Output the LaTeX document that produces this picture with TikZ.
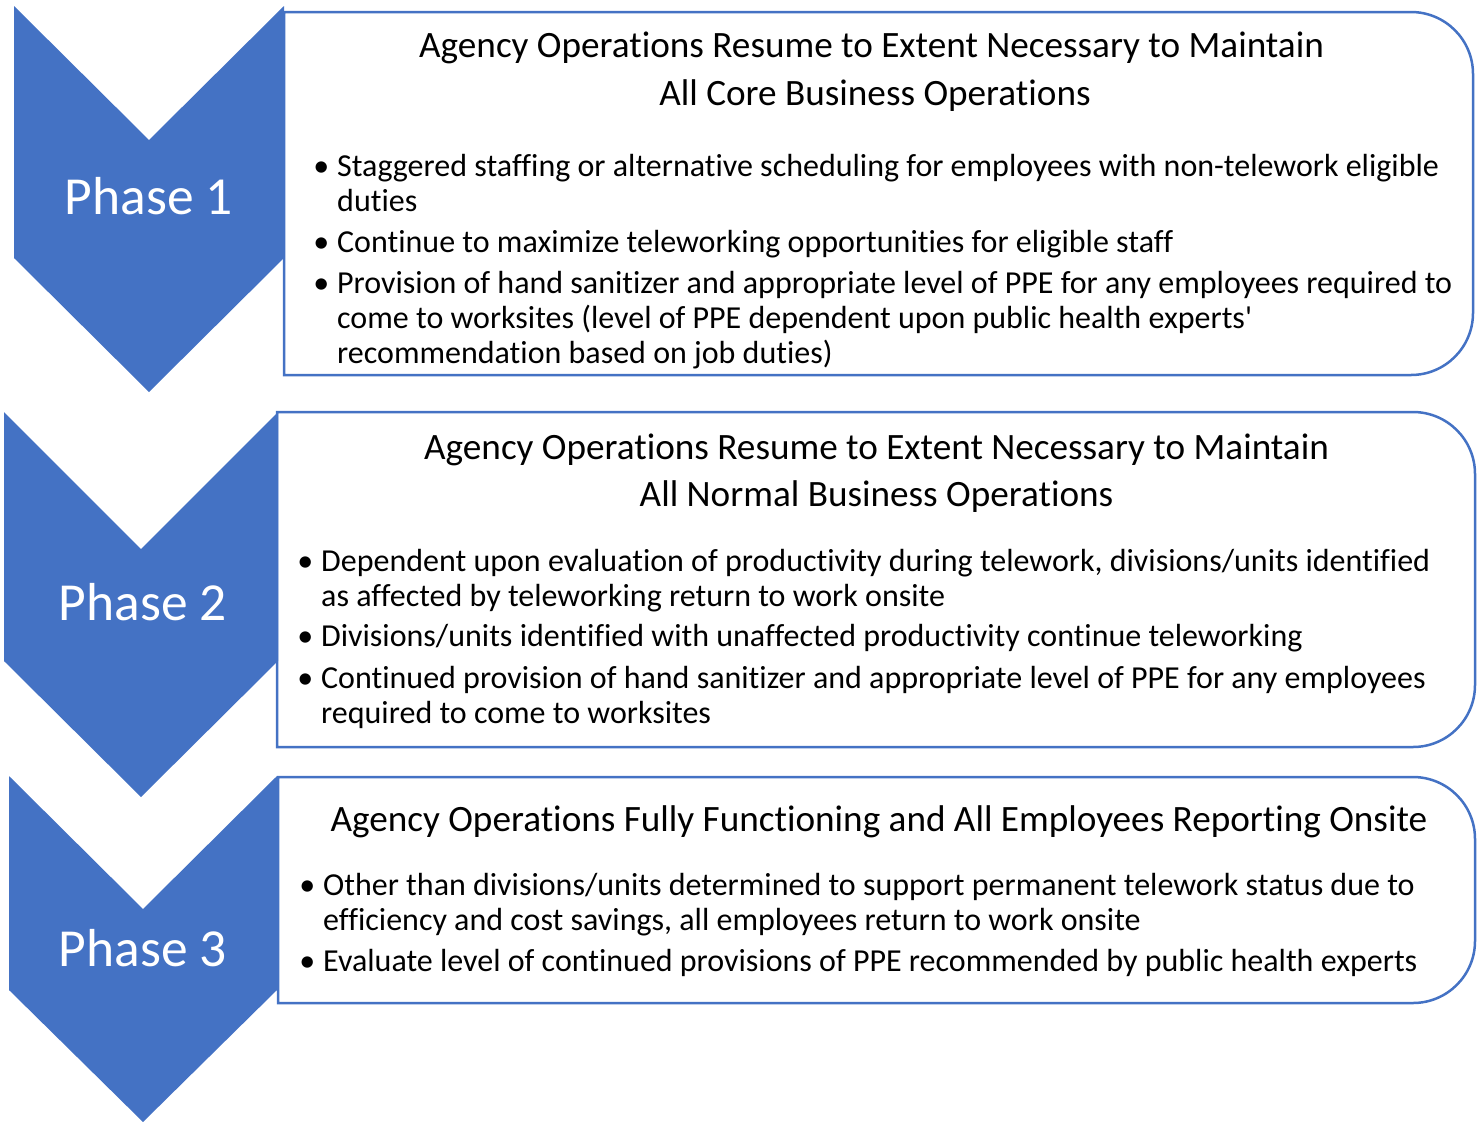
\documentclass[tikz,border=0pt]{standalone}
\usepackage{fontspec}
\setmainfont{Carlito}[Ligatures={TeX,NoCommon}]
\definecolor{accentblue}{HTML}{4472C4}
\begin{document}
\begin{tikzpicture}[x=1pt,y=1pt,
  chevron/.style={fill=accentblue,draw=none},
  phasebox/.style={draw=accentblue,line width=2.5pt,fill=white},
  phaselabel/.style={text=white,font=\fontsize{53.5}{60}\selectfont,inner sep=0pt,anchor=base},
  titletext/.style={font=\fontsize{37.2}{48}\selectfont,inner sep=0pt,anchor=base,align=center},
  bullettext/.style={font=\fontsize{32}{35}\selectfont,inner sep=0pt,anchor=base west,align=left}]
\useasboundingbox (0,0) rectangle (1481,-1122);
\newcommand{\bulmark}{\llap{\textbullet\hspace{8pt}}}
% boxes
\draw[phasebox] (284,-12) -- (1411,-12) arc[start angle=90,end angle=0,radius=62] -- (1473,-313) arc[start angle=0,end angle=-90,radius=62] -- (284,-375) -- cycle;
\draw[phasebox] (277,-412) -- (1413,-412) arc[start angle=90,end angle=0,radius=62] -- (1475,-685) arc[start angle=0,end angle=-90,radius=62] -- (277,-747) -- cycle;
\draw[phasebox] (278,-777) -- (1413,-777) arc[start angle=90,end angle=0,radius=62] -- (1475,-941) arc[start angle=0,end angle=-90,radius=62] -- (278,-1003) -- cycle;
% chevrons
\fill[chevron] (14,-6) -- (149,-140) -- (284,-6) -- (284,-258) -- (149,-392) -- (14,-258) -- cycle;
\fill[chevron] (4,-412) -- (141,-549) -- (278,-412) -- (278,-661) -- (141,-797) -- (4,-661) -- cycle;
\fill[chevron] (9,-776) -- (143,-909) -- (277,-776) -- (277,-990) -- (143,-1122) -- (9,-990) -- cycle;
% phase labels
\node[phaselabel] (p1) at (149,-214) {Phase 1};
\node[phaselabel] (p2) at (143,-620) {Phase 2};
\node[phaselabel] (p3) at (143,-966) {Phase 3};
% box 1 (multi-line nodes are anchored at the baseline of their last line)
\node[titletext] (t1a) at (871.5,-57) {Agency Operations Resume to Extent Necessary to Maintain};
\node[titletext] (t1b) at (875,-105) {All Core Business Operations};
\node[bullettext] (b1a) at (337,-211.5) {\bulmark Staggered staffing or alternative scheduling for employees with non-telework eligible\\duties};
\node[bullettext] (b1b) at (337,-252) {\bulmark Continue to maximize teleworking opportunities for eligible staff};
\node[bullettext] (b1c) at (337,-363) {\bulmark Provision of hand sanitizer and appropriate level of PPE for any employees required to\\come to worksites (level of PPE dependent upon public health experts\textquotesingle\\recommendation based on job duties)};
% box 2
\node[titletext] (t2a) at (876.5,-459) {Agency Operations Resume to Extent Necessary to Maintain};
\node[titletext] (t2b) at (876.5,-506) {All Normal Business Operations};
\node[bullettext] (b2a) at (321,-606) {\bulmark Dependent upon evaluation of productivity during telework, divisions/units identified\\as affected by teleworking return to work onsite};
\node[bullettext] (b2b) at (321,-646) {\bulmark Divisions/units identified with unaffected productivity continue teleworking};
\node[bullettext] (b2c) at (321,-723) {\bulmark Continued provision of hand sanitizer and appropriate level of PPE for any employees\\required to come to worksites};
% box 3
\node[titletext] (t3a) at (879,-831) {Agency Operations Fully Functioning and All Employees Reporting Onsite};
\node[bullettext] (b3a) at (323,-930) {\bulmark Other than divisions/units determined to support permanent telework status due to\\efficiency and cost savings, all employees return to work onsite};
\node[bullettext] (b3b) at (323,-971) {\bulmark Evaluate level of continued provisions of PPE recommended by public health experts};
\end{tikzpicture}
\end{document}
